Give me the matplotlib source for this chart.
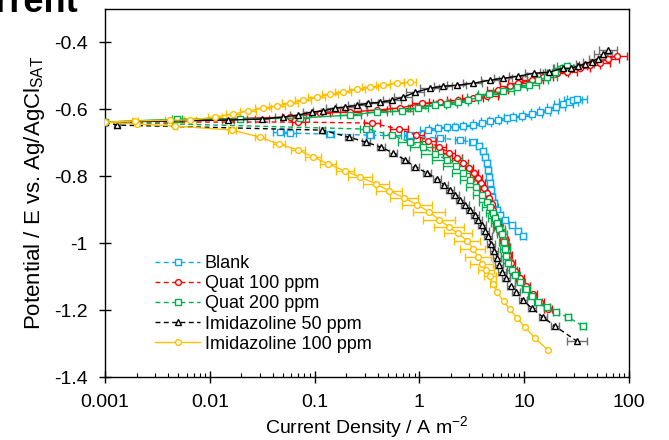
import numpy as np
import matplotlib
matplotlib.use("Agg")
import matplotlib.pyplot as plt
from matplotlib.ticker import FixedLocator, FuncFormatter, LogLocator, NullFormatter

plt.rcParams['font.family'] = ['Liberation Sans', 'DejaVu Sans']
plt.rcParams['mathtext.fontset'] = 'custom'
plt.rcParams['mathtext.rm'] = 'Liberation Sans'
plt.rcParams['mathtext.it'] = 'Liberation Sans:italic'
plt.rcParams['axes.unicode_minus'] = False

# ---------------- data (current density A m-2, potential V, error in decades) --------------
labels = ["Blank", "Quat 100 ppm", "Quat 200 ppm", "Imidazoline 50 ppm", "Imidazoline 100 ppm"]

blank_cat_i = [0.0468, 0.0582, 0.140, 0.338, 0.813, 1.57, 2.44, 3.24, 3.71, 4.05, 4.23, 4.42, 4.52,
               4.61, 4.72, 4.82, 4.93, 5.15, 5.50, 5.87, 6.56, 7.65, 8.73, 9.75]
blank_cat_E = [-0.668, -0.671, -0.674, -0.677, -0.680, -0.686, -0.692, -0.698, -0.710, -0.724, -0.742,
               -0.760, -0.781, -0.802, -0.820, -0.840, -0.861, -0.879, -0.900, -0.915, -0.930, -0.945,
               -0.965, -0.980]
blank_cat_err = [0.07, 0.06, 0.04, 0.04, 0.04, 0.05, 0.05, 0.04, 0.03, 0.03, 0.03, 0.03, 0.03,
                 0.03, 0.03, 0.03, 0.03, 0.03, 0.03, 0.03, 0.03, 0.03, 0.03, 0.03]
blank_an_i = [0.813, 1.21, 1.51, 1.83, 2.19, 2.61, 3.24, 3.96, 4.72, 5.62, 6.85, 7.82, 9.52, 11.9,
              14.2, 16.9, 20.1, 23.5, 26.7, 29.2, 31.9]
blank_an_E = [-0.676, -0.662, -0.656, -0.653, -0.653, -0.650, -0.647, -0.641, -0.635, -0.632, -0.626,
              -0.623, -0.620, -0.614, -0.608, -0.602, -0.593, -0.585, -0.579, -0.573, -0.570]
blank_an_err = [0.06, 0.08, 0.09, 0.09, 0.09, 0.09, 0.09, 0.09, 0.09, 0.09, 0.09, 0.09, 0.09, 0.09,
                0.09, 0.09, 0.09, 0.09, 0.09, 0.09, 0.1]

q100_cat_i = [0.001, 0.07, 0.353, 0.638, 0.929, 1.21, 1.54, 1.92, 2.28, 2.61, 2.97, 3.32, 3.62, 3.87,
              4.13, 4.42, 4.61, 4.93, 5.04, 5.26, 5.50, 5.62, 6.00, 6.41, 6.70, 7.00, 7.48, 8.17,
              9.12, 10.4, 12.1, 14.2, 16.9]
q100_cat_E = [-0.638, -0.638, -0.641, -0.659, -0.677, -0.695, -0.713, -0.730, -0.745, -0.760, -0.775,
              -0.790, -0.805, -0.820, -0.835, -0.849, -0.864, -0.882, -0.900, -0.918, -0.936, -0.951,
              -0.968, -0.989, -1.010, -1.034, -1.058, -1.082, -1.105, -1.129, -1.153, -1.177, -1.198]
q100_cat_err = [0, 0.06, 0.08, 0.09, 0.08, 0.08, 0.07, 0.06, 0.05, 0.05, 0.04, 0.04, 0.04, 0.04,
                0.04, 0.04, 0.04, 0.04, 0.04, 0.04, 0.04, 0.04, 0.04, 0.04, 0.04, 0.04, 0.04, 0.04,
                0.04, 0.04, 0.04, 0.04, 0.04]
q100_an_i = [0.001, 0.0582, 0.113, 0.218, 0.394, 0.653, 1.06, 1.57, 2.33, 3.24, 4.42, 5.62, 7.32,
             8.73, 11.9, 15.1, 20.6, 25.6, 34.0, 42.4, 52.9, 63.1, 76.8]
q100_an_E = [-0.638, -0.623, -0.611, -0.608, -0.602, -0.596, -0.582, -0.579, -0.573, -0.567, -0.561,
             -0.543, -0.531, -0.522, -0.513, -0.504, -0.492, -0.489, -0.477, -0.468, -0.460, -0.448,
             -0.439]
q100_an_err = [0, 0.08, 0.09, 0.1, 0.1, 0.1, 0.1, 0.1, 0.1, 0.1, 0.1, 0.1, 0.1, 0.1, 0.1, 0.1,
               0.1, 0.1, 0.1, 0.1, 0.1, 0.1, 0.1]

q200_cat_i = [0.001, 0.309, 0.548, 0.813, 1.08, 1.41, 1.83, 2.23, 2.61, 3.04, 3.47, 3.96, 4.42, 4.72,
              5.04, 5.26, 5.50, 5.75, 6.14, 6.41, 6.56, 6.70, 7.00, 7.65, 8.17, 9.12, 10.4, 11.9,
              13.5, 16.5, 20.1, 26.2, 36.4]
q200_cat_E = [-0.638, -0.659, -0.677, -0.698, -0.713, -0.733, -0.751, -0.769, -0.790, -0.811, -0.832,
              -0.855, -0.876, -0.891, -0.909, -0.924, -0.939, -0.957, -0.974, -0.995, -1.016, -1.037,
              -1.058, -1.079, -1.096, -1.117, -1.138, -1.159, -1.177, -1.192, -1.207, -1.221, -1.248]
q200_cat_err = [0, 0.06, 0.09, 0.11, 0.12, 0.13, 0.14, 0.12, 0.11, 0.1, 0.1, 0.09, 0.08, 0.08,
                0.07, 0.07, 0.06, 0.06, 0.05, 0.05, 0.05, 0.05, 0.05, 0.05, 0.05, 0.05, 0.04, 0.04,
                0.04, 0.03, 0.03, 0.03, 0.03]
q200_an_i = [0.001, 0.00486, 0.0194, 0.0726, 0.218, 0.394, 0.683, 0.970, 1.41, 1.83, 2.33, 2.91,
             3.62, 4.61, 6.28, 8.54, 11.1, 13.5, 16.5, 19.7, 23.5, 25.6]
q200_an_E = [-0.638, -0.629, -0.629, -0.626, -0.617, -0.608, -0.605, -0.596, -0.588, -0.585, -0.579,
             -0.573, -0.564, -0.555, -0.546, -0.534, -0.528, -0.513, -0.504, -0.489, -0.477, -0.471]
q200_an_err = [0, 0.05, 0.07, 0.09, 0.1, 0.1, 0.1, 0.1, 0.1, 0.1, 0.1, 0.1, 0.1, 0.1, 0.1, 0.1,
               0.1, 0.1, 0.1, 0.1, 0.1, 0.1]

im50_cat_i = [0.001, 0.0013, 0.118, 0.213, 0.309, 0.431, 0.560, 0.729, 0.908, 1.18, 1.47, 1.72, 1.96,
              2.19, 2.44, 2.72, 3.04, 3.40, 3.62, 3.96, 4.23, 4.52, 4.82, 5.15, 5.50, 5.75, 6.14,
              6.70, 7.48, 8.35, 9.75, 11.9, 15.1, 19.7, 31.9]
im50_cat_E = [-0.638, -0.647, -0.662, -0.683, -0.698, -0.713, -0.730, -0.751, -0.772, -0.790, -0.808,
              -0.826, -0.840, -0.855, -0.870, -0.885, -0.900, -0.915, -0.930, -0.945, -0.963, -0.980,
              -1.001, -1.022, -1.043, -1.064, -1.085, -1.105, -1.129, -1.147, -1.171, -1.195, -1.221,
              -1.248, -1.293]
im50_cat_err = [0, 0.03, 0.03, 0.035, 0.035, 0.035, 0.035, 0.035, 0.035, 0.035, 0.035, 0.035, 0.035,
                0.035, 0.035, 0.035, 0.035, 0.035, 0.035, 0.035, 0.035, 0.035, 0.035, 0.035, 0.035,
                0.035, 0.035, 0.035, 0.035, 0.035, 0.035, 0.035, 0.035, 0.035, 0.1]
im50_an_i = [0.001, 0.0149, 0.0315, 0.0499, 0.0695, 0.0944, 0.120, 0.157, 0.195, 0.254, 0.324, 0.421,
             0.548, 0.698, 0.908, 1.26, 1.68, 2.28, 3.24, 4.72, 6.28, 8.73, 12.4, 17.3, 23.5, 28.0,
             32.6, 38.0, 44.4, 50.6, 56.5, 63.1]
im50_an_E = [-0.638, -0.632, -0.629, -0.623, -0.617, -0.608, -0.605, -0.596, -0.593, -0.588, -0.582,
             -0.579, -0.573, -0.564, -0.549, -0.537, -0.531, -0.528, -0.522, -0.513, -0.507, -0.501,
             -0.492, -0.489, -0.477, -0.477, -0.471, -0.463, -0.457, -0.448, -0.436, -0.424]
im50_an_err = [0, 0.06, 0.07, 0.08, 0.08, 0.09, 0.09, 0.09, 0.09, 0.09, 0.09, 0.09, 0.09, 0.09,
               0.09, 0.09, 0.09, 0.09, 0.09, 0.09, 0.09, 0.09, 0.09, 0.09, 0.09, 0.09, 0.09, 0.09,
               0.09, 0.09, 0.09, 0.09]

im100_cat_i = [0.001, 0.00202, 0.00466, 0.0163, 0.0301, 0.0457, 0.0695, 0.0966, 0.134, 0.195, 0.271,
               0.385, 0.513, 0.713, 0.949, 1.236, 1.54, 1.92, 2.33, 2.85, 3.24, 3.62, 3.95, 4.32,
               4.72, 5.04, 5.50, 6.41, 7.32, 8.54, 10.2, 12.7, 16.9]
im100_cat_E = [-0.638, -0.644, -0.650, -0.662, -0.683, -0.704, -0.721, -0.742, -0.763, -0.784,
               -0.802, -0.823, -0.843, -0.864, -0.885, -0.906, -0.930, -0.951, -0.971, -0.992,
               -1.016, -1.040, -1.061, -1.079, -1.099, -1.123, -1.147, -1.174, -1.198, -1.224,
               -1.251, -1.284, -1.320]
im100_cat_err = [0, 0, 0.02, 0.04, 0.05, 0.06, 0.07, 0.08, 0.08, 0.09, 0.11, 0.12, 0.12, 0.13, 0.14,
                 0.15, 0.15, 0.14, 0.13, 0.12, 0.12, 0.12, 0.11, 0.08, 0.06, 0.03, 0, 0, 0, 0, 0, 0, 0]
im100_an_i = [0.001, 0.00193, 0.00417, 0.00647, 0.0112, 0.0166, 0.0232, 0.0322, 0.0438, 0.0582,
              0.0775, 0.105, 0.140, 0.187, 0.254, 0.338, 0.450, 0.611, 0.813]
im100_an_E = [-0.638, -0.635, -0.632, -0.632, -0.623, -0.614, -0.605, -0.596, -0.590, -0.582, -0.573,
              -0.564, -0.555, -0.549, -0.540, -0.534, -0.528, -0.522, -0.519]
im100_an_err = [0, 0.03, 0.05, 0.06, 0.07, 0.07, 0.08, 0.08, 0.08, 0.08, 0.08, 0.08, 0.08, 0.08,
                0.08, 0.08, 0.07, 0.07, 0.06]

series = [
    (blank_cat_i, blank_cat_E, blank_cat_err, blank_an_i, blank_an_E, blank_an_err),
    (q100_cat_i, q100_cat_E, q100_cat_err, q100_an_i, q100_an_E, q100_an_err),
    (q200_cat_i, q200_cat_E, q200_cat_err, q200_an_i, q200_an_E, q200_an_err),
    (im50_cat_i, im50_cat_E, im50_cat_err, im50_an_i, im50_an_E, im50_an_err),
    (im100_cat_i, im100_cat_E, im100_cat_err, im100_an_i, im100_an_E, im100_an_err),
]

# ---------------- styles --------------
colors = ["#12A9E8", "#FF0000", "#00B050", "#000000", "#FFC000"]
err_colors = ["#12A9E8", "#FF0000", "#00B050", "#707070", "#FFC000"]
markers = ["s", "o", "s", "^", "o"]
cat_ls = [(0, (3.5, 2.5))] * 4 + ["-"]

fig = plt.figure(figsize=(6.69, 4.40), dpi=100)
ax = fig.add_axes([105 / 669, 1 - 377 / 440, 524 / 669, 368 / 440])

# partially visible heading at the very top (cut off in the original)
fig.text(78 / 669, 1 - 12 / 440, "Current", fontsize=26, fontweight="bold",
         ha="right", va="baseline")


def draw(i, E, err, color, ecolor, marker, ls, label=None):
    i = np.asarray(i, float)
    E = np.asarray(E, float)
    d = np.asarray(err, float)
    lo = i - i / 10 ** d
    hi = i * 10 ** d - i
    mask = d > 0
    if mask.any():
        ax.errorbar(i[mask], E[mask], xerr=[lo[mask], hi[mask]], fmt="none", ecolor=ecolor,
                    elinewidth=1.0, capsize=2.6, capthick=1.0, zorder=2)
    line, = ax.plot(i, E, linestyle=ls, color=color, lw=1.0, marker=marker, markersize=4.2,
                    markerfacecolor="white", markeredgecolor=color, markeredgewidth=1.0,
                    zorder=3, label=label)
    return line


handles = []
for k, (ci, cE, cerr, ai, aE, aerr) in enumerate(series):
    h = draw(ci, cE, cerr, colors[k], err_colors[k], markers[k], cat_ls[k], labels[k])
    draw(ai, aE, aerr, colors[k], err_colors[k], markers[k], "-")
    handles.append(h)

ax.set_xscale("log")
ax.set_xlim(0.001, 100)
ax.set_ylim(-1.4, -0.3)
ax.xaxis.set_major_locator(FixedLocator([0.001, 0.01, 0.1, 1, 10, 100]))
ax.xaxis.set_major_formatter(FuncFormatter(lambda v, p: "%g" % v))
ax.xaxis.set_minor_locator(LogLocator(base=10, subs=np.arange(2, 10)))
ax.xaxis.set_minor_formatter(NullFormatter())
ax.yaxis.set_major_locator(FixedLocator([-1.4, -1.2, -1.0, -0.8, -0.6, -0.4]))
ax.yaxis.set_major_formatter(FuncFormatter(lambda v, p: "%g" % round(v, 2)))

for s in ax.spines.values():
    s.set_linewidth(1.0)
ax.tick_params(axis="both", which="major", direction="inout", length=8.5, width=1.0,
               labelsize=14, pad=8)
ax.tick_params(axis="x", which="minor", direction="in", length=3, width=0.8)
ax.tick_params(axis="y", which="minor", left=False)

ax.set_xlabel(r"Current Density / A m$^{\mathrm{-2}}$", fontsize=14, labelpad=2)
ax.set_ylabel(r"Potential / E vs. Ag/AgCl$_{\mathrm{SAT}}$", fontsize=16, labelpad=5)

ax.legend(handles=handles, loc="center left", bbox_to_anchor=((155 - 105) / 524, (377 - 304) / 368),
          frameon=False, fontsize=13, handlelength=2.5, handletextpad=0.25, labelspacing=0.17,
          borderpad=0, borderaxespad=0, numpoints=1)

fig.savefig("out.png", dpi=100)
